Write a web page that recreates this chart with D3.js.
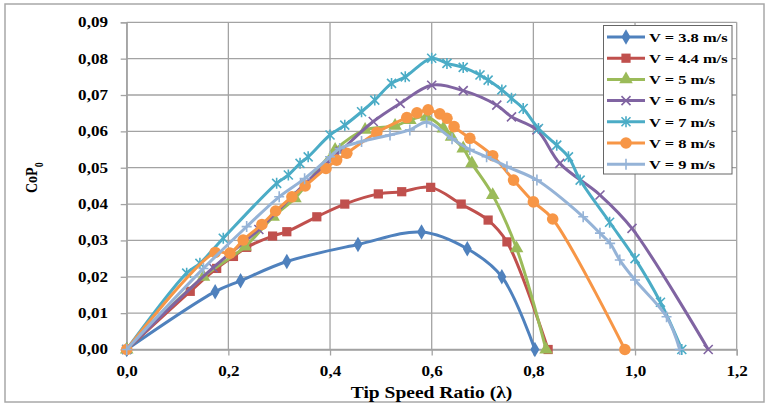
<!DOCTYPE html>
<html><head><meta charset="utf-8">
<script src="https://cdn.jsdelivr.net/npm/d3@7"></script>
<style>body{margin:0;background:#fff} svg{display:block}</style>
</head><body><svg id="c" width="769" height="405"></svg>
<script>
// ---------- data ----------
const seriesLabels = ["V = 3.8 m/s","V = 4.4 m/s","V = 5 m/s","V = 6 m/s","V = 7 m/s","V = 8 m/s","V = 9 m/s"];
const seriesColors = ["#4F81BD","#C0504D","#9BBB59","#8064A2","#4BACC6","#F79646","#95B3D7"];
const seriesMarkers = ["diamond","square","triangle","x","star","circle","plus"];

const v38X = [0, 0.174, 0.224, 0.315, 0.455, 0.580, 0.670, 0.738, 0.803];
const v38Y = [0, 0.0159, 0.0189, 0.0242, 0.0289, 0.0323, 0.0277, 0.0200, 0];

const v44X = [0, 0.125, 0.177, 0.210, 0.236, 0.287, 0.315, 0.374, 0.429, 0.495, 0.541, 0.598, 0.658, 0.711, 0.748, 0.829];
const v44Y = [0, 0.0160, 0.0223, 0.0256, 0.0281, 0.0312, 0.0324, 0.0365, 0.0400, 0.0428, 0.0434, 0.0446, 0.0400, 0.0356, 0.0296, 0];

const v5X = [0, 0.151, 0.233, 0.288, 0.331, 0.410, 0.469, 0.528, 0.557, 0.590, 0.623, 0.639, 0.662, 0.679, 0.720, 0.767, 0.825];
const v5Y = [0, 0.0200, 0.0283, 0.0365, 0.0416, 0.0549, 0.0604, 0.0615, 0.0631, 0.0640, 0.0608, 0.0585, 0.0553, 0.0512, 0.0425, 0.0278, 0];

const v6X = [0, 0.170, 0.260, 0.350, 0.420, 0.485, 0.538, 0.600, 0.662, 0.728, 0.757, 0.807, 0.852, 0.931, 0.994, 1.144];
const v6Y = [0, 0.0225, 0.0330, 0.0455, 0.0545, 0.0627, 0.0677, 0.0727, 0.0712, 0.0672, 0.0640, 0.0604, 0.0512, 0.0425, 0.0333, 0];

const v7X = [0, 0.118, 0.144, 0.190, 0.295, 0.318, 0.341, 0.357, 0.400, 0.429, 0.462, 0.488, 0.521, 0.548, 0.600, 0.630, 0.662, 0.695, 0.711, 0.738, 0.757, 0.780, 0.810, 0.846, 0.869, 0.892, 0.950, 1.000, 1.050, 1.092];
const v7Y = [0, 0.0210, 0.0237, 0.0306, 0.0457, 0.0480, 0.0512, 0.0530, 0.0590, 0.0617, 0.0654, 0.0686, 0.0732, 0.0750, 0.0801, 0.0787, 0.0776, 0.0755, 0.0741, 0.0714, 0.0691, 0.0663, 0.0608, 0.0562, 0.0530, 0.0466, 0.0350, 0.0250, 0.0130, 0];

const v8X = [0, 0.174, 0.203, 0.229, 0.266, 0.293, 0.325, 0.351, 0.392, 0.413, 0.433, 0.492, 0.551, 0.571, 0.593, 0.616, 0.630, 0.644, 0.675, 0.720, 0.761, 0.800, 0.838, 0.980];
const v8Y = [0, 0.0267, 0.0265, 0.0301, 0.0344, 0.0381, 0.0420, 0.0450, 0.0498, 0.0521, 0.0540, 0.0597, 0.0638, 0.0651, 0.0659, 0.0648, 0.0636, 0.0613, 0.0581, 0.0533, 0.0466, 0.0406, 0.0359, 0];

const v9X = [0, 0.151, 0.236, 0.300, 0.350, 0.400, 0.419, 0.462, 0.518, 0.557, 0.590, 0.640, 0.675, 0.708, 0.748, 0.807, 0.898, 0.931, 0.951, 0.970, 1.000, 1.062, 1.088];
const v9Y = [0, 0.0223, 0.0338, 0.0420, 0.0470, 0.0530, 0.0553, 0.0572, 0.0590, 0.0604, 0.0625, 0.0580, 0.0550, 0.0530, 0.0503, 0.0466, 0.0365, 0.0320, 0.0292, 0.0246, 0.0191, 0.0090, 0];

const seriesX = [v38X, v44X, v5X, v6X, v7X, v8X, v9X];
const seriesY = [v38Y, v44Y, v5Y, v6Y, v7Y, v8Y, v9Y];

const xTicks = [0, 0.2, 0.4, 0.6, 0.8, 1.0, 1.2];
const yTicks = [0, 0.01, 0.02, 0.03, 0.04, 0.05, 0.06, 0.07, 0.08, 0.09];
const xTitle = "Tip Speed Ratio (λ)";

// ---------- layout ----------
const SX = 1.22;
const FONT = "'Liberation Serif','Times New Roman',serif";
const GRID = "#a3a3a3";
const svg = d3.select("#c");
const X0 = 126.7, X1 = 736.7, Y0 = 349.5, Y1 = 22.3;
const x = d3.scaleLinear().domain([0, 1.2]).range([X0, X1]);
const y = d3.scaleLinear().domain([0, 0.09]).range([Y0, Y1]);

// outer frame
svg.append("rect").attr("x", 5).attr("y", 4).attr("width", 759).attr("height", 398)
  .attr("fill", "#fff").attr("stroke", "#a8a8a8").attr("stroke-width", 1.5);

// grid
const grid = svg.append("g");
grid.selectAll(".h").data(yTicks).join("line")
  .attr("x1", X0).attr("x2", X1).attr("y1", d => y(d)).attr("y2", d => y(d))
  .attr("stroke", GRID).attr("stroke-width", 1.3);
grid.selectAll(".v").data(xTicks).join("line")
  .attr("x1", d => x(d)).attr("x2", d => x(d)).attr("y1", Y1).attr("y2", Y0)
  .attr("stroke", GRID).attr("stroke-width", 1.3);

// axes
const gy = svg.append("g").attr("transform", `translate(${X0},0)`)
  .call(d3.axisLeft(y).tickValues(yTicks).tickSize(6).tickFormat(d => d.toFixed(2).replace(".", ",")));
gy.attr("font-family", FONT).attr("font-size", 14).attr("font-weight", "bold");
gy.select(".domain").attr("stroke", GRID).attr("stroke-width", 1.3);
gy.selectAll(".tick line").attr("stroke", GRID).attr("stroke-width", 1.3);
gy.selectAll(".tick text").attr("x", -18.7 / SX).attr("transform", `scale(${SX},1)`).attr("fill", "#000");

const gx = svg.append("g").attr("transform", `translate(0,${Y0})`)
  .call(d3.axisBottom(x).tickValues(xTicks).tickSize(6).tickFormat(d => d.toFixed(1).replace(".", ",")));
gx.attr("font-family", FONT).attr("font-size", 14).attr("font-weight", "bold");
gx.select(".domain").attr("stroke", GRID).attr("stroke-width", 1.3);
gx.selectAll(".tick line").attr("stroke", GRID).attr("stroke-width", 1.3);
gx.selectAll(".tick text").attr("y", 26.5).attr("dy", 0).attr("transform", `scale(${SX},1)`).attr("fill", "#000");

// axis titles
svg.append("text").attr("transform", `translate(431.5,398) scale(${SX},1)`)
  .attr("text-anchor", "middle").attr("font-family", FONT).attr("font-size", 16)
  .attr("font-weight", "bold").text(xTitle);
const yt = svg.append("text").attr("transform", `translate(37.3,193) scale(${SX},1) rotate(-90)`)
  .attr("font-family", FONT).attr("font-size", 14).attr("font-weight", "bold");
yt.append("tspan").text("CoP");
yt.append("tspan").attr("font-size", 10).attr("dy", 5).text("0");

// markers
function marker(g, type, color, cx, cy) {
  const t = `translate(${cx},${cy})`;
  if (type === "diamond") g.append("path").attr("transform", t).attr("d", d3.symbol(d3.symbolDiamond, 70)()).attr("fill", color);
  else if (type === "square") g.append("path").attr("transform", t).attr("d", d3.symbol(d3.symbolSquare, 85)()).attr("fill", color);
  else if (type === "triangle") g.append("path").attr("transform", t).attr("d", d3.symbol(d3.symbolTriangle, 80)()).attr("fill", color);
  else if (type === "circle") g.append("circle").attr("cx", cx).attr("cy", cy).attr("r", 5.8).attr("fill", color);
  else if (type === "x") g.append("path").attr("transform", t).attr("d", "M-4.5,-4.5L4.5,4.5M-4.5,4.5L4.5,-4.5").attr("stroke", color).attr("stroke-width", 1.6).attr("fill", "none");
  else if (type === "star") g.append("path").attr("transform", t).attr("d", "M-4.5,-4.5L4.5,4.5M-4.5,4.5L4.5,-4.5M0,-5.5L0,5.5").attr("stroke", color).attr("stroke-width", 1.6).attr("fill", "none");
  else if (type === "plus") g.append("path").attr("transform", t).attr("d", "M-5,0L5,0M0,-5.5L0,5.5").attr("stroke", color).attr("stroke-width", 1.6).attr("fill", "none");
}

// series
const line = d3.line().x(d => x(d[0])).y(d => y(d[1])).curve(d3.curveCatmullRom.alpha(0.5));
seriesLabels.forEach((lab, i) => {
  const pts = seriesX[i].map((v, k) => [v, seriesY[i][k]]);
  const g = svg.append("g");
  g.append("path").attr("d", line(pts)).attr("fill", "none").attr("stroke", seriesColors[i])
    .attr("stroke-width", 3).attr("stroke-linejoin", "round");
  pts.forEach(p => marker(g, seriesMarkers[i], seriesColors[i], x(p[0]), y(p[1])));
});

// legend
const lg = svg.append("g");
lg.append("rect").attr("x", 603.5).attr("y", 25.5).attr("width", 128.5).attr("height", 148.5)
  .attr("fill", "#fff").attr("stroke", "#666").attr("stroke-width", 1);
seriesLabels.forEach((lab, i) => {
  const ry = 37 + i * 21.2;
  lg.append("line").attr("x1", 607).attr("x2", 645).attr("y1", ry).attr("y2", ry)
    .attr("stroke", seriesColors[i]).attr("stroke-width", 3);
  marker(lg, seriesMarkers[i], seriesColors[i], 626, ry);
  lg.append("text").attr("transform", `translate(649,${ry + 4.8}) scale(${SX},1)`)
    .attr("font-family", FONT).attr("font-size", 13.5).attr("font-weight", "bold").text(lab);
});
</script>
</body></html>
